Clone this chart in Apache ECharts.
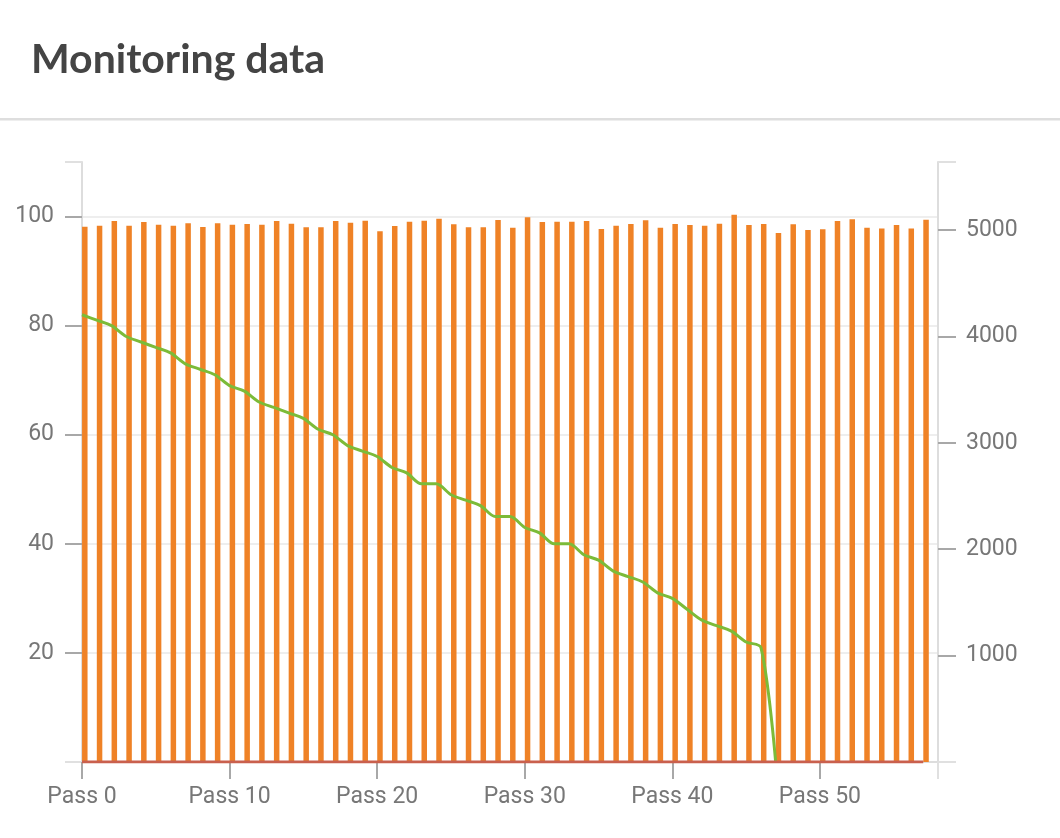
<!DOCTYPE html>
<html>
<head>
<meta charset="utf-8">
<title>Monitoring data</title>
<script src="https://cdn.jsdelivr.net/npm/echarts@6/dist/echarts.min.js"></script>
<style>
  html, body { margin: 0; padding: 0; background: #fff; }
  #main { width: 1060px; height: 838px; }
</style>
</head>
<body>
<div id="main"></div>
<script>
// pass numbers on the x axis
var passes = [0, 1, 2, 3, 4, 5, 6, 7, 8, 9,
    10, 11, 12, 13, 14, 15, 16, 17, 18, 19,
    20, 21, 22, 23, 24, 25, 26, 27, 28, 29,
    30, 31, 32, 33, 34, 35, 36, 37, 38, 39,
    40, 41, 42, 43, 44, 45, 46, 47, 48, 49,
    50, 51, 52, 53, 54, 55, 56, 57];

// orange bars, right axis
var barValues = [5032, 5041, 5085, 5041, 5076, 5050, 5041, 5064, 5029, 5064,
    5050, 5057, 5050, 5085, 5060, 5026, 5026, 5085, 5069, 5088,
    4988, 5038, 5079, 5088, 5107, 5054, 5026, 5026, 5095, 5022,
    5120, 5076, 5079, 5079, 5085, 5010, 5041, 5057, 5092, 5022,
    5057, 5048, 5041, 5060, 5145, 5048, 5057, 4972, 5054, 5001,
    5007, 5085, 5101, 5022, 5016, 5048, 5016, 5098];

// green line, left axis (passes 0..47)
var greenValues = [82, 81, 80, 78, 77, 76, 75, 73, 72, 71,
    69, 68, 66, 65, 64, 63, 61, 60, 58, 57,
    56, 54, 53, 51, 51, 49, 48, 47, 45, 45,
    43, 42, 40, 40, 38, 37, 35, 34, 33, 31,
    30, 28, 26, 25, 24, 22, 21, 0];

// red line along the bottom, left axis
var redValues = [0, 0, 0, 0, 0, 0, 0, 0, 0, 0,
    0, 0, 0, 0, 0, 0, 0, 0, 0, 0,
    0, 0, 0, 0, 0, 0, 0, 0, 0, 0,
    0, 0, 0, 0, 0, 0, 0, 0, 0, 0,
    0, 0, 0, 0, 0, 0, 0, 0, 0, 0,
    0, 0, 0, 0, 0, 0, 0, 0];

var xTicks = [0, 10, 20, 30, 40, 50];
var leftTicks = [20, 40, 60, 80, 100];
var rightTicks = [1000, 2000, 3000, 4000, 5000];

function pairs(xs, ys) {
    var out = [];
    for (var i = 0; i < ys.length; i++) {
        out.push([xs[i], ys[i]]);
    }
    return out;
}

var labelStyle = { color: '#777', fontSize: 23, fontFamily: 'Roboto' };
var darkTick = { color: '#a8a8a8', width: 2 };
var lightTick = { color: '#e0e0e0', width: 2 };

var chart = echarts.init(document.getElementById('main'));

var option = {
    animation: false,
    backgroundColor: '#fff',
    title: {
        text: 'Monitoring data',
        left: 26,
        top: 34,
        textStyle: { fontFamily: 'Lato', fontWeight: 'bold', fontSize: 41, color: '#444' }
    },
    graphic: [{
        type: 'rect',
        left: 0,
        top: 118,
        shape: { width: 1060, height: 2.5 },
        style: { fill: '#dedede' }
    }],
    grid: { left: 82, right: 122, top: 162, bottom: 76, containLabel: false },
    xAxis: [{
        type: 'value',
        position: 'bottom',
        min: 0,
        max: 58,
        interval: 10,
        axisLine: { show: true, onZero: false, lineStyle: { color: '#ddd', width: 2 } },
        axisTick: { show: true, inside: false, length: 17, customValues: xTicks, lineStyle: darkTick },
        axisLabel: {
            customValues: xTicks,
            margin: 24,
            formatter: 'Pass {value}',
            color: labelStyle.color, fontSize: labelStyle.fontSize, fontFamily: labelStyle.fontFamily
        },
        splitLine: { show: false }
    }, {
        type: 'value',
        position: 'bottom',
        min: 0,
        max: 58,
        axisLine: { show: false, onZero: false },
        axisTick: { show: true, inside: false, length: 17, customValues: [58], lineStyle: lightTick },
        axisLabel: { show: false },
        splitLine: { show: false }
    }, {
        // bars sit just right of each pass tick
        type: 'value',
        position: 'bottom',
        min: -0.19,
        max: 57.81,
        axisLine: { onZero: false },
        show: false
    }],
    yAxis: [{
        type: 'value',
        position: 'left',
        min: 0,
        max: 110,
        interval: 10,
        axisLine: { show: true, onZero: false, lineStyle: { color: '#ddd', width: 2 } },
        axisTick: { show: true, inside: false, length: 17, customValues: leftTicks, lineStyle: darkTick },
        axisLabel: {
            customValues: leftTicks,
            margin: 28,
            color: labelStyle.color, fontSize: labelStyle.fontSize, fontFamily: labelStyle.fontFamily
        },
        splitLine: { show: true, lineStyle: { color: '#eee', width: 2 } }
    }, {
        type: 'value',
        position: 'left',
        min: 0,
        max: 110,
        axisLine: { show: false, onZero: false },
        axisTick: { show: true, inside: false, length: 17, customValues: [0, 110], lineStyle: lightTick },
        axisLabel: { show: false },
        splitLine: { show: false }
    }, {
        type: 'value',
        position: 'right',
        min: 0,
        max: 5640,
        axisLine: { show: true, onZero: false, lineStyle: { color: '#ddd', width: 2 } },
        axisTick: { show: true, inside: false, length: 18, customValues: rightTicks, lineStyle: darkTick },
        axisLabel: {
            customValues: rightTicks,
            margin: 28,
            formatter: function (v) { return String(v); },
            color: labelStyle.color, fontSize: labelStyle.fontSize, fontFamily: labelStyle.fontFamily
        },
        splitLine: { show: false }
    }, {
        type: 'value',
        position: 'right',
        min: 0,
        max: 5640,
        axisLine: { show: false, onZero: false },
        axisTick: { show: true, inside: false, length: 18, customValues: [0, 5640], lineStyle: lightTick },
        axisLabel: { show: false },
        splitLine: { show: false }
    }],
    series: [{
        name: 'bars',
        type: 'bar',
        xAxisIndex: 2,
        yAxisIndex: 2,
        barWidth: 5.5,
        z: 1,
        itemStyle: { color: '#ef8226' },
        data: pairs(passes, barValues)
    }, {
        name: 'green',
        type: 'line',
        xAxisIndex: 0,
        yAxisIndex: 0,
        smooth: 0.3,
        showSymbol: false,
        z: 3,
        lineStyle: { color: '#7cbb38', width: 3 },
        data: pairs(passes, greenValues)
    }, {
        name: 'red',
        type: 'line',
        xAxisIndex: 0,
        yAxisIndex: 0,
        showSymbol: false,
        z: 4,
        lineStyle: { color: '#c9604e', width: 3 },
        data: pairs(passes, redValues)
    }]
};

chart.setOption(option);
</script>
</body>
</html>
